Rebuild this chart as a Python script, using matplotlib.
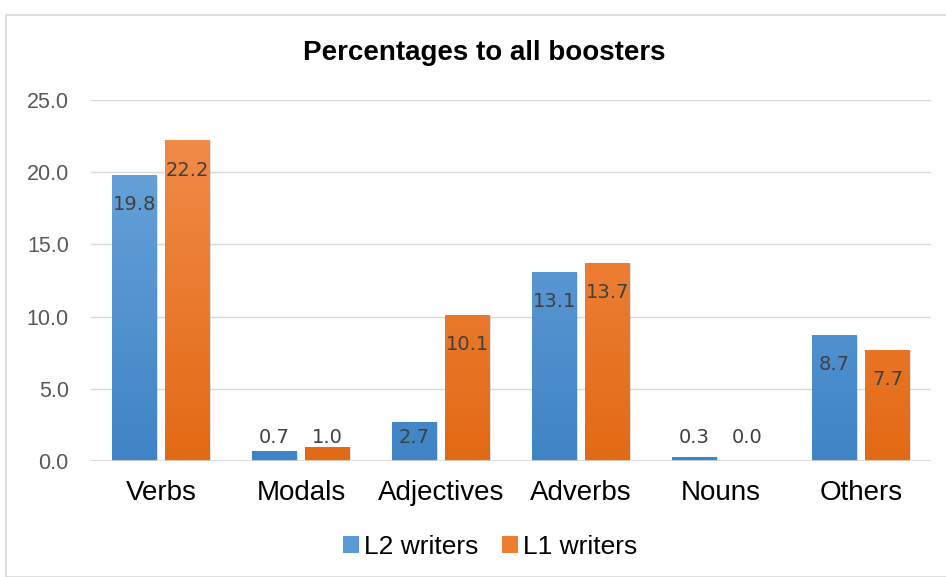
import numpy as np
import matplotlib
matplotlib.use("Agg")
import matplotlib.pyplot as plt
from matplotlib.patches import Rectangle
from matplotlib.colors import LinearSegmentedColormap

categories = ["Verbs", "Modals", "Adjectives", "Adverbs", "Nouns", "Others"]
l2_values = [19.8, 0.7, 2.7, 13.1, 0.3, 8.7]
l1_values = [22.2, 1.0, 10.1, 13.7, 0.0, 7.7]
series_names = ["L2 writers", "L1 writers"]
yticks = [0, 5, 10, 15, 20, 25]

plt.rcParams['font.family'] = ['Liberation Sans', 'DejaVu Sans']

fig = plt.figure(figsize=(9.46, 5.77), dpi=100)
ax = fig.add_axes([91/946, 1-461/577, 840/946, 361/577])

# chart border
fig.patches.append(Rectangle((6/946, 0), 1.2, 1-15/577, transform=fig.transFigure,
                             fill=False, edgecolor='#D9D9D9', linewidth=1.2))

x = np.arange(len(categories))
w = 0.32
gap = 0.06
blue_cmap = LinearSegmentedColormap.from_list('b', ['#3F84C6', '#6FA7DC'])
orange_cmap = LinearSegmentedColormap.from_list('o', ['#E36A14', '#F38E4E'])

grad = np.linspace(0, 1, 256).reshape(-1, 1)

def draw(xs, vals, color, cmap, label):
    bars = ax.bar(xs, vals, w, color=color, label=label, zorder=3, edgecolor='none')
    for b in bars:
        h = b.get_height()
        if h <= 0:
            continue
        ax.add_patch(Rectangle((b.get_x() + 0.008, 0), b.get_width(), h - 0.05,
                               facecolor='#000000', alpha=0.12, zorder=2.5, edgecolor='none'))
        im = ax.imshow(grad, cmap=cmap, aspect='auto', origin='lower',
                       extent=(b.get_x(), b.get_x() + b.get_width(), 0, 25), zorder=3.1)
        im.set_clip_path(b)
    return bars

draw(x - w/2 - gap/2, l2_values, '#5B9BD5', blue_cmap, series_names[0])
draw(x + w/2 + gap/2, l1_values, '#ED7D31', orange_cmap, series_names[1])

for xs, vals in [(x - w/2 - gap/2, l2_values), (x + w/2 + gap/2, l1_values)]:
    for xi, v in zip(xs, vals):
        yl = max(v - 2.05, 1.65)
        ax.text(xi, yl, f"{v:.1f}", ha='center', va='center', fontsize=14,
                color='#404040', zorder=5, family=['DejaVu Sans'])

ax.set_xlim(-0.5, len(categories) - 0.5)
ax.set_ylim(0, 25)
ax.set_yticks(yticks)
ax.set_yticklabels([f"{t:.1f}" for t in yticks], fontsize=15.5, color='#595959')
ax.set_xticks(x)
ax.set_xticklabels(categories, fontsize=20, color='#000000')
ax.tick_params(axis='y', length=0, pad=16)
ax.tick_params(axis='x', length=0, pad=14)
ax.grid(axis='y', color='#D9D9D9', linewidth=1, zorder=0)
ax.set_axisbelow(True)
for s in ax.spines.values():
    s.set_visible(False)
ax.axhline(0, color='#D9D9D9', linewidth=1.2, zorder=4)

fig.text(484/946, 1-53/577, "Percentages to all boosters", ha='center', va='center',
         fontsize=20, fontweight='bold')

handles = [Rectangle((0, 0), 1, 1, facecolor='#5B9BD5'), Rectangle((0, 0), 1, 1, facecolor='#ED7D31')]
fig.legend(handles, series_names, loc='center', bbox_to_anchor=(490/946, 1-547/577),
           ncol=2, frameon=False, fontsize=19, handlelength=0.6, handleheight=0.6,
           handletextpad=0.2, columnspacing=0.9)

fig.savefig("out.png", dpi=100)
